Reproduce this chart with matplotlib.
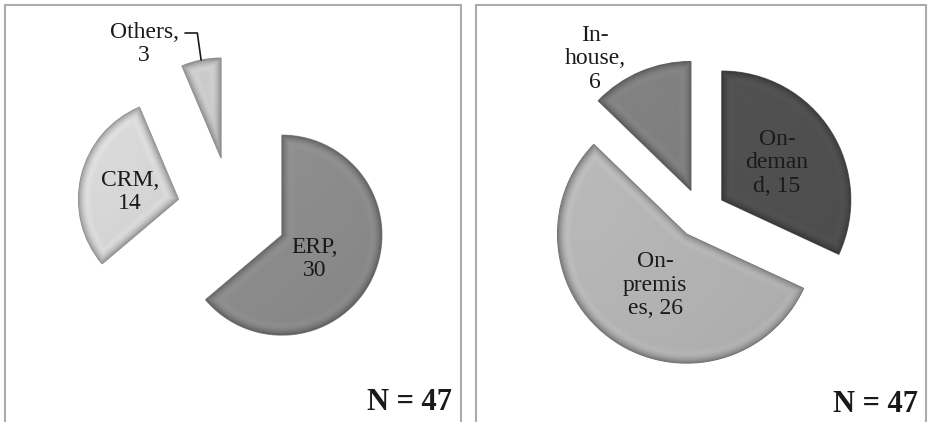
import numpy as np
import matplotlib.pyplot as plt
from matplotlib.colors import to_rgb

# left pie: application types
app_values = [30, 14, 3]
app_labels = ["ERP,\n30", "CRM,\n14", "Others,\n3"]
app_colors = ["#8c8c8c", "#d4d4d4", "#c6c6c6"]

# right pie: deployment types
dep_values = [15, 26, 6]
dep_labels = ["On-\ndeman\nd, 15", "On-\npremis\nes, 26", "In-\nhouse,\n6"]
dep_colors = ["#505050", "#b4b4b4", "#7e7e7e"]

n_text = "N = 47"

W, H = 930, 422
plt.rcParams['font.family'] = ['Liberation Serif', 'DejaVu Serif']

fig = plt.figure(figsize=(W / 100, H / 100), dpi=100)
fig.patch.set_facecolor("white")


def draw_border(ax, x0, x1, top):
    ax.plot([x0, x0, x1, x1], [-5, top, top, -5], color="#ababab", lw=1.5,
            solid_joinstyle="miter", clip_on=False, zorder=0)


def finish(ax, xlim):
    ax.set_xlim(*xlim)
    ax.set_ylim(0, H)
    ax.set_aspect("equal")
    ax.axis("off")


# fake bevel: darken each wedge close to its outline
def bevel(ax, w, color):
    cx, cy = w.center
    R = w.r
    xs = np.arange(cx - R, cx + R + 1, 1.0)
    ys = np.arange(cy - R, cy + R + 1, 1.0)
    X, Y = np.meshgrid(xs, ys)
    r = np.hypot(X - cx, Y - cy)
    ang = np.degrees(np.arctan2(Y - cy, X - cx))
    span = w.theta2 - w.theta1
    a = np.mod(ang - w.theta1, 360)
    b = span - a
    d1 = np.where(a < 90, r * np.sin(np.radians(np.clip(a, 0, 90))), r)
    d2 = np.where(b < 90, r * np.sin(np.radians(np.clip(b, 0, 90))), r)
    d = np.minimum(np.minimum(R - r, d1), d2)
    d = np.clip(d, 0, None)
    f = 1 - 0.30 * np.exp(-d / 4.0) + 0.06 * np.exp(-((d - 8) / 4.0) ** 2)
    # slight overall shading, lighter towards upper left
    f = f * (1 + 0.05 * ((X - cx) * -0.5 + (Y - cy) * 0.5) / R)
    rgb = np.clip(np.array(to_rgb(color))[None, None, :] * f[..., None], 0, 1)
    im = ax.imshow(rgb, extent=(xs[0], xs[-1], ys[0], ys[-1]), origin="lower",
                   interpolation="bilinear", zorder=w.get_zorder() + 0.1)
    im.set_clip_path(w)


# ---- left panel ----
ax1 = fig.add_axes([0, 0, 0.5, 1])
wedges1, _ = ax1.pie(app_values, colors=app_colors, startangle=90, counterclock=False,
                     center=(232, 210), radius=100, explode=[55] * len(app_values),
                     wedgeprops=dict(edgecolor="#8f8f8f", linewidth=0.8))
for w, c in zip(wedges1, app_colors):
    bevel(ax1, w, c)
finish(ax1, (0, W / 2))
draw_border(ax1, 5, 461, 417)

label_pos1 = [(315, 422 - 259), (130, 422 - 192), (144, 422 - 44)]
for (x, y), lab in zip(label_pos1, app_labels):
    ax1.text(x, y, lab, ha="center", va="center", fontsize=17, linespacing=1.15,
             color="#1a1a1a", zorder=5)

# leader line for the small slice
w = wedges1[2]
mid = np.deg2rad((w.theta1 + w.theta2) / 2)
tip = (w.center[0] + w.r * np.cos(mid), w.center[1] + w.r * np.sin(mid))
ax1.annotate("", xy=tip, xytext=(185, 422 - 33),
             arrowprops=dict(arrowstyle="-", color="#1a1a1a", lw=1.2, shrinkA=0, shrinkB=0,
                             connectionstyle="angle,angleA=0,angleB=98,rad=0"))

ax1.text(452, 422 - 410, n_text, ha="right", va="baseline", fontsize=22,
         fontweight="bold", color="#1a1a1a")

# ---- right panel ----
ax2 = fig.add_axes([0.5, 0, 0.5, 1])
wedges2, _ = ax2.pie(dep_values, colors=dep_colors, startangle=90, counterclock=False,
                     center=(700.7, 208.5), radius=129, explode=[25] * len(dep_values),
                     wedgeprops=dict(edgecolor="#6e6e6e", linewidth=0.8))
for w, c in zip(wedges2, dep_colors):
    bevel(ax2, w, c)
finish(ax2, (W / 2, W))
draw_border(ax2, 476, 926, 417)

label_pos2 = [(777, 422 - 163), (655, 422 - 285), (595, 422 - 59)]
for (x, y), lab in zip(label_pos2, dep_labels):
    ax2.text(x, y, lab, ha="center", va="center", fontsize=17, linespacing=1.15,
             color="#1a1a1a", zorder=5)

ax2.text(918, 422 - 412, n_text, ha="right", va="baseline", fontsize=22,
         fontweight="bold", color="#1a1a1a")

fig.savefig("out.png", dpi=100, facecolor="white")
